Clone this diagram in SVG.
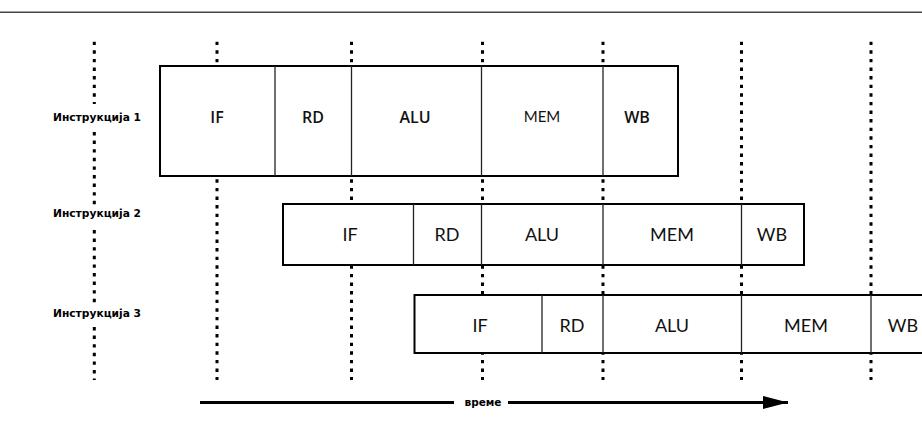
<svg xmlns="http://www.w3.org/2000/svg" width="922" height="438" viewBox="0 0 922 438">
<style>
.dot{stroke:#000;stroke-width:3;stroke-dasharray:3.4 5.2;fill:none}
.box{fill:#fff;stroke:#000;stroke-width:2}
.div{stroke:#222;stroke-width:1.3}
.lbl{font-family:"DejaVu Sans",sans-serif;font-weight:bold;font-size:10px;fill:#000}
.s1{font-family:"Open Sans","Liberation Sans",sans-serif;font-weight:600;font-size:16px;text-anchor:middle;dominant-baseline:central;fill:#111}
.s1l{font-family:"Lato","Liberation Sans",sans-serif;font-size:15px;text-anchor:middle;dominant-baseline:central;fill:#111}
.s2{font-family:"Lato","Liberation Sans",sans-serif;font-size:18px;text-anchor:middle;dominant-baseline:central;fill:#111}
</style>
<defs>
<marker id="ah" markerWidth="9" markerHeight="5" refX="8.4" refY="2.2" orient="auto" markerUnits="strokeWidth">
<path d="M0,0 L8.4,2.2 L0,4.4 Z" fill="#000"/>
</marker>
</defs>
<rect x="0" y="0" width="922" height="438" fill="#fff"/>
<line x1="0" y1="12.3" x2="922" y2="12.3" stroke="#444" stroke-width="1.6"/>
<g id="connectors">
<path class="dot" d="M94.3,41.7 V104 M94.3,132 V206 M94.3,230 V305 M94.3,327 V380"/>
<line class="dot" x1="217" y1="41.7" x2="217" y2="380"/>
<line class="dot" x1="351.5" y1="41.7" x2="351.5" y2="380"/>
<line class="dot" x1="482.5" y1="41.7" x2="482.5" y2="380"/>
<line class="dot" x1="603" y1="41.7" x2="603" y2="380"/>
<line class="dot" x1="741.5" y1="41.7" x2="741.5" y2="380"/>
<line class="dot" x1="871" y1="41.7" x2="871" y2="380"/>
<line x1="200" y1="402.5" x2="454" y2="402.5" stroke="#000" stroke-width="3"/>
<line x1="508" y1="402.5" x2="788" y2="402.5" stroke="#000" stroke-width="3" marker-end="url(#ah)"/>
</g>
<text class="lbl" x="483" y="406" text-anchor="middle" textLength="37" lengthAdjust="spacingAndGlyphs">време</text>
<g id="instr1">
<text class="lbl" x="53" y="121" textLength="88" lengthAdjust="spacingAndGlyphs">Инструкција 1</text>
<rect class="box" x="160" y="66" width="518" height="110"/>
<line class="div" x1="275" y1="66" x2="275" y2="176"/>
<line class="div" x1="351.5" y1="66" x2="351.5" y2="176"/>
<line class="div" x1="481.5" y1="66" x2="481.5" y2="176" stroke-width="2"/>
<line class="div" x1="603" y1="66" x2="603" y2="176"/>
<text class="s1" x="217" y="117">IF</text>
<text class="s1" x="313" y="117">RD</text>
<text class="s1" x="415" y="117">ALU</text>
<text class="s1l" x="542" y="116">MEM</text>
<text class="s1" x="637" y="117">WB</text>
</g>
<g id="instr2">
<text class="lbl" x="53" y="217" textLength="88" lengthAdjust="spacingAndGlyphs">Инструкција 2</text>
<rect class="box" x="283" y="204" width="521" height="61"/>
<line class="div" x1="413.5" y1="204" x2="413.5" y2="265"/>
<line class="div" x1="481.5" y1="204" x2="481.5" y2="265"/>
<line class="div" x1="603" y1="204" x2="603" y2="265"/>
<line class="div" x1="741.5" y1="204" x2="741.5" y2="265"/>
<text class="s2" x="350" y="234">IF</text>
<text class="s2" x="447" y="234">RD</text>
<text class="s2" x="542" y="234">ALU</text>
<text class="s2" x="672" y="234">MEM</text>
<text class="s2" x="772" y="234">WB</text>
</g>
<g id="instr3">
<text class="lbl" x="53" y="317" textLength="88" lengthAdjust="spacingAndGlyphs">Инструкција 3</text>
<rect class="box" x="414.5" y="295" width="520" height="58"/>
<line class="div" x1="542" y1="295" x2="542" y2="353"/>
<line class="div" x1="603" y1="295" x2="603" y2="353"/>
<line class="div" x1="741.5" y1="295" x2="741.5" y2="353" stroke-width="2"/>
<line class="div" x1="871" y1="295" x2="871" y2="353"/>
<text class="s2" x="480" y="325">IF</text>
<text class="s2" x="572" y="325">RD</text>
<text class="s2" x="672" y="325">ALU</text>
<text class="s2" x="806" y="325">MEM</text>
<text class="s2" x="903" y="325">WB</text>
</g>
</svg>
